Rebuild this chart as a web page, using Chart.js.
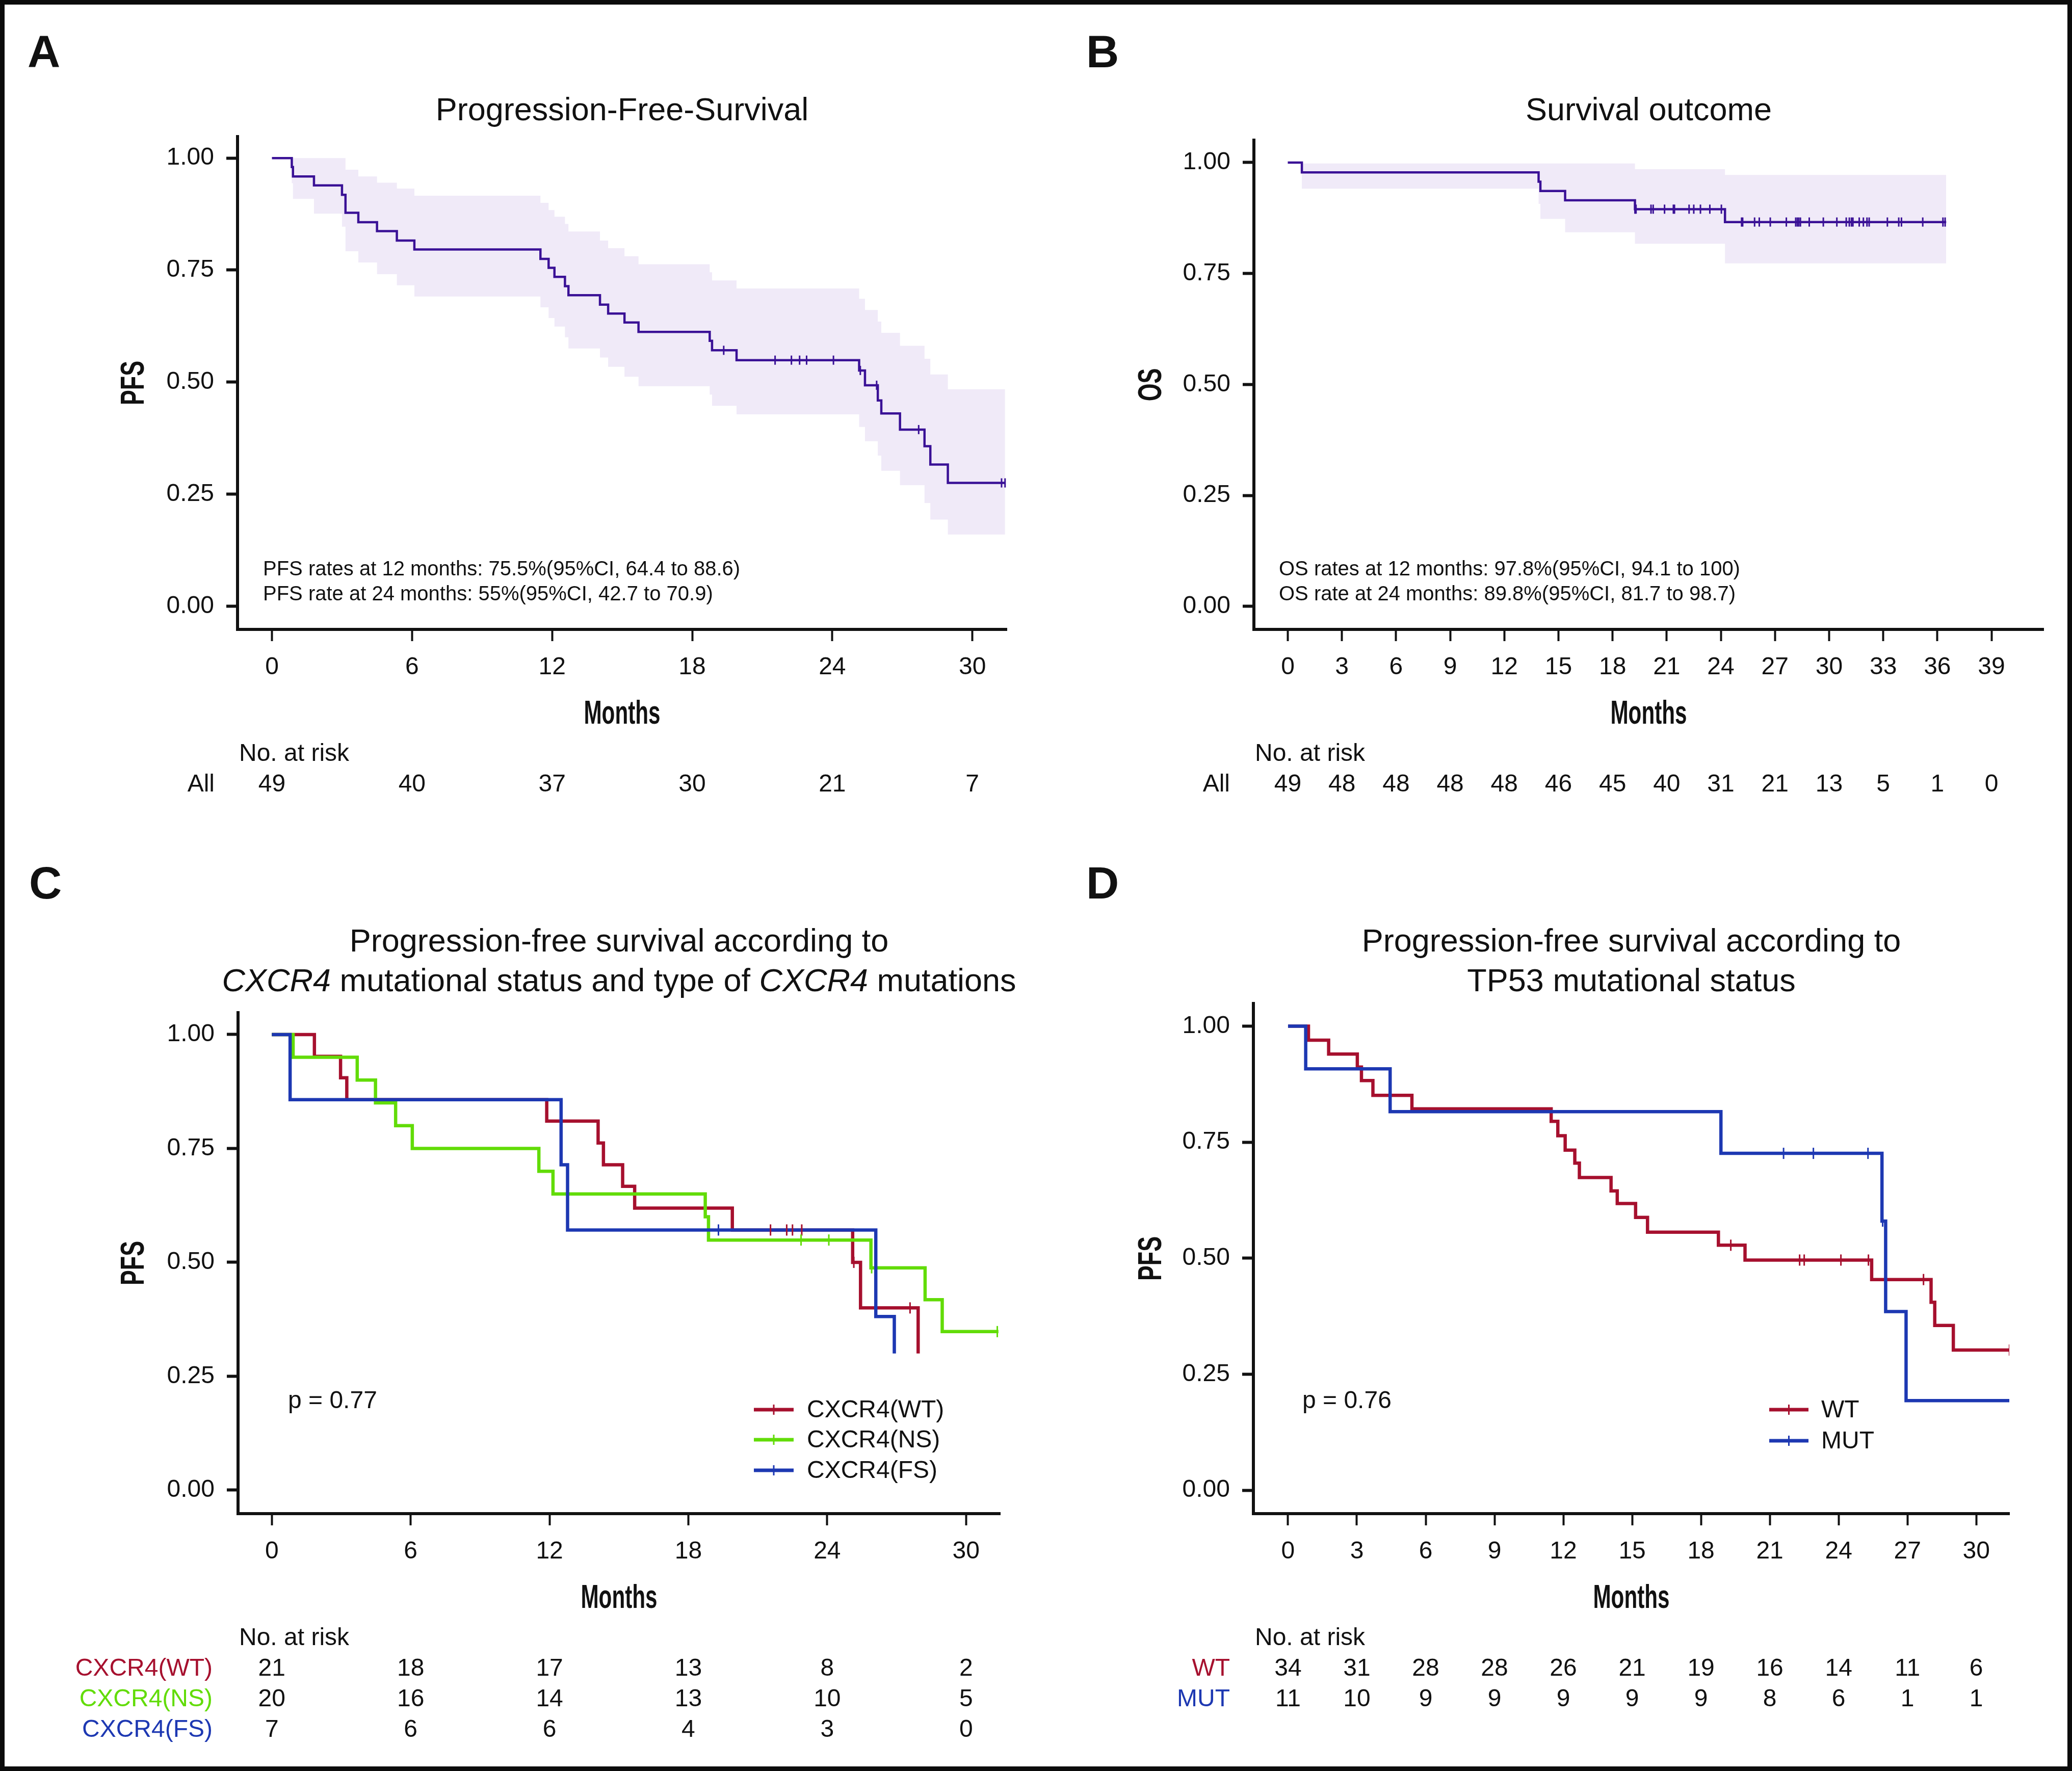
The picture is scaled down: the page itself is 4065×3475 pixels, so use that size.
<!DOCTYPE html>
<html><head><meta charset="utf-8">
<script src="https://cdn.jsdelivr.net/npm/chart.js@4/dist/chart.umd.min.js"></script>
<style>
html,body{margin:0;padding:0;background:#fff;}
#fig{position:relative;width:4065px;height:3475px;background:#fff;overflow:hidden;}
.panel{position:absolute;}
.panel canvas{display:block;}
#frame{position:absolute;left:0;top:0;width:4065px;height:3475px;box-sizing:border-box;border:9px solid #0b0b0b;pointer-events:none;}
</style></head><body>
<div id="fig">
  <div class="panel" style="left:0;top:0;width:2032px;height:1627px"><canvas id="cA"></canvas></div>
  <div class="panel" style="left:2032px;top:0;width:2033px;height:1627px"><canvas id="cB"></canvas></div>
  <div class="panel" style="left:0;top:1627px;width:2032px;height:1848px"><canvas id="cC"></canvas></div>
  <div class="panel" style="left:2032px;top:1627px;width:2033px;height:1848px"><canvas id="cD"></canvas></div>
  <div id="frame"></div>
</div>
<script>
// ---------------- DATA ----------------
// Panel A: progression-free survival (all patients)
const pfsTimes  = [0, 0.85, 0.9, 1.8, 3.0, 3.15, 3.7, 4.5, 5.35, 6.1, 11.5, 11.85, 12.1, 12.55, 12.7, 14.05, 14.4, 15.1, 15.7, 18.75, 18.85, 19.9, 25.15, 25.4, 25.95, 26.1, 26.9, 27.95, 28.2, 28.95, 31.4];
const pfsSurv   = [1.0, 0.980, 0.959, 0.939, 0.918, 0.878, 0.857, 0.837, 0.816, 0.796, 0.775, 0.755, 0.735, 0.714, 0.694, 0.673, 0.653, 0.633, 0.612, 0.592, 0.571, 0.549, 0.526, 0.493, 0.459, 0.430, 0.394, 0.357, 0.316, 0.275, 0.275];
const pfsUpper  = [1.0, 1.0, 1.0, 1.0, 1.0, 0.974, 0.959, 0.945, 0.932, 0.916, 0.900, 0.884, 0.869, 0.853, 0.836, 0.816, 0.799, 0.781, 0.763, 0.745, 0.727, 0.709, 0.686, 0.661, 0.635, 0.610, 0.581, 0.552, 0.517, 0.484, 0.484];
const pfsLower  = [1.0, 0.944, 0.909, 0.876, 0.847, 0.792, 0.767, 0.741, 0.716, 0.691, 0.667, 0.643, 0.624, 0.600, 0.575, 0.555, 0.534, 0.512, 0.491, 0.472, 0.447, 0.428, 0.400, 0.368, 0.336, 0.302, 0.270, 0.230, 0.193, 0.160, 0.160];
const pfsCensor = [19.35, 21.55, 22.25, 22.6, 22.9, 24.05, 25.2, 25.9, 27.7, 31.25, 31.4];
const pfsNotes  = ["PFS rates at 12 months: 75.5%(95%CI, 64.4 to 88.6)", "PFS rate at 24 months: 55%(95%CI, 42.7 to 70.9)"];
const riskTimesA = [0, 6, 12, 18, 24, 30];
const riskAll_A  = [49, 40, 37, 30, 21, 7];

// Panel B: overall survival
const osTimes  = [0, 0.78, 13.9, 14.0, 15.37, 19.24, 24.23, 36.49];
const osSurv   = [1.0, 0.978, 0.957, 0.936, 0.915, 0.895, 0.866, 0.866];
const osUpper  = [1.0, 0.998, 0.998, 0.998, 0.998, 0.985, 0.972, 0.972];
const osLower  = [1.0, 0.941, 0.907, 0.873, 0.843, 0.817, 0.773, 0.773];
const osCensor = [19.24, 19.3, 20.13, 20.25, 20.88, 21.37, 21.43, 22.24, 22.5, 22.87, 23.39, 24.03, 25.15, 25.21, 25.87, 26.13, 26.74, 27.63, 28.15, 28.24, 28.32, 28.41, 28.9, 29.68, 30.43, 30.95, 31.12, 31.24, 31.32, 31.67, 31.9, 32.1, 32.22, 33.23, 33.86, 34.01, 35.19, 36.31, 36.43];
const osNotes  = ["OS rates at 12 months: 97.8%(95%CI, 94.1 to 100)", "OS rate at 24 months: 89.8%(95%CI, 81.7 to 98.7)"];
const riskTimesB = [0, 3, 6, 9, 12, 15, 18, 21, 24, 27, 30, 33, 36, 39];
const riskAll_B  = [49, 48, 48, 48, 48, 46, 45, 40, 31, 21, 13, 5, 1, 0];

// Panel C: PFS by CXCR4 status
const cxWtTimes  = [0, 1.84, 2.97, 3.24, 11.88, 14.1, 14.33, 15.16, 15.68, 19.9, 25.1, 25.44, 27.93];
const cxWtSurv   = [1.0, 0.952, 0.905, 0.857, 0.810, 0.762, 0.714, 0.667, 0.619, 0.571, 0.500, 0.400, 0.300];
const cxWtCensor = [21.55, 22.25, 22.5, 22.9, 25.15, 27.58];
const cxNsTimes  = [0, 0.92, 3.69, 4.48, 5.35, 6.07, 11.54, 12.15, 18.73, 18.87, 25.89, 28.23, 28.97, 31.4];
const cxNsSurv   = [1.0, 0.95, 0.90, 0.85, 0.80, 0.75, 0.70, 0.65, 0.60, 0.549, 0.488, 0.418, 0.348, 0.348];
const cxNsCensor = [22.87, 24.07, 25.92, 31.35];
const cxFsTimes  = [0, 0.79, 12.5, 12.78, 26.1, 26.9];
const cxFsSurv   = [1.0, 0.857, 0.714, 0.571, 0.381, 0.300];
const cxFsCensor = [19.3];
const riskTimesC = [0, 6, 12, 18, 24, 30];
const riskCxWt = [21, 18, 17, 13, 8, 2];
const riskCxNs = [20, 16, 14, 13, 10, 5];
const riskCxFs = [7, 6, 6, 4, 3, 0];

// Panel D: PFS by TP53 status
const tpWtTimes  = [0, 0.89, 1.77, 3.02, 3.2, 3.7, 5.4, 11.47, 11.76, 12.08, 12.5, 12.7, 14.08, 14.35, 15.15, 15.67, 18.76, 19.92, 25.44, 28.03, 28.19, 29.0, 31.5];
const tpWtSurv   = [1.0, 0.970, 0.940, 0.912, 0.883, 0.851, 0.822, 0.795, 0.764, 0.733, 0.705, 0.674, 0.645, 0.618, 0.588, 0.556, 0.528, 0.496, 0.454, 0.405, 0.355, 0.302, 0.302];
const tpWtCensor = [19.3, 22.3, 22.5, 24.1, 25.3, 27.7, 31.45];
const tpMutTimes = [0, 0.77, 4.45, 18.87, 25.89, 26.05, 26.94, 31.5];
const tpMutSurv  = [1.0, 0.908, 0.816, 0.726, 0.580, 0.385, 0.193, 0.193];
const tpMutCensor = [21.6, 22.9, 25.28, 25.92];
const riskTimesD = [0, 3, 6, 9, 12, 15, 18, 21, 24, 27, 30];
const riskTpWt  = [34, 31, 28, 28, 26, 21, 19, 16, 14, 11, 6];
const riskTpMut = [11, 10, 9, 9, 9, 9, 9, 8, 6, 1, 1];

const yTickValues = [0, 0.25, 0.5, 0.75, 1.0];

// ---------------- STYLE ----------------
const FONT = "'Liberation Sans', Arial, Helvetica, sans-serif";
const INK = '#111111';
const IND = '#3A1196';
const BAND = '#F0EAF8';
const RED = '#A6102E';
const GREEN = '#62DC08';
const BLUE = '#1D38B2';

function pts(times, vals) { return times.map((t, i) => ({x: t, y: vals[i]})); }
function survAt(times, vals, t) {
  let v = vals[0];
  for (let i = 0; i < times.length; i++) { if (times[i] <= t) v = vals[i]; }
  return v;
}
function censorPts(c, times, vals) { return c.map(t => ({x: t, y: survAt(times, vals, t)})); }

function curve(label, times, vals, color, width) {
  return {label, data: pts(times, vals), stepped: 'before', borderColor: color, borderWidth: width,
          pointRadius: 0, fill: false, order: 1};
}
function censors(label, c, times, vals, color, r, w) {
  return {label, data: censorPts(c, times, vals), showLine: false, pointStyle: 'line', rotation: 90,
          pointRadius: r, pointBorderWidth: w, pointBorderColor: color, borderColor: color,
          pointBackgroundColor: color, order: 0};
}
function band(times, up, lo) {
  return [
    {label: 'upper', data: pts(times, up), stepped: 'before', borderColor: 'rgba(0,0,0,0)', borderWidth: 0, pointRadius: 0, fill: false, order: 5},
    {label: 'lower', data: pts(times, lo), stepped: 'before', borderColor: 'rgba(0,0,0,0)', borderWidth: 0, pointRadius: 0, fill: '-1', backgroundColor: BAND, order: 5}
  ];
}

const decoPlugin = {
  id: 'deco',
  afterDraw(chart, args, o) {
    const ctx = chart.ctx, xs = chart.scales.x, ca = chart.chartArea;
    ctx.save();
    ctx.fillStyle = INK;
    ctx.textBaseline = 'alphabetic';
    // panel letter
    ctx.font = 'bold 89px ' + FONT;
    ctx.textAlign = 'left';
    ctx.fillText(o.letter, o.letterX, o.letterY);
    // title lines (mixed italic)
    const cx0 = (ca.left + ca.right) / 2;
    o.title.forEach((runs, i) => {
      let total = 0;
      const w = runs.map(r => { ctx.font = (r.it ? 'italic ' : '') + '63px ' + FONT; const m = ctx.measureText(r.t).width; total += m; return m; });
      let x = cx0 - total / 2;
      runs.forEach((r, k) => { ctx.font = (r.it ? 'italic ' : '') + '63px ' + FONT; ctx.fillText(r.t, x, o.titleY[i]); x += w[k]; });
    });
    // axis titles in a condensed bold face
    ctx.font = 'bold 64px ' + FONT;
    ctx.textAlign = 'center';
    ctx.save();
    ctx.translate(cx0, ca.bottom + 185);
    ctx.scale(0.66, 1);
    ctx.fillText(o.xTitle, 0, 0);
    ctx.restore();
    ctx.save();
    ctx.translate(o.yTitleX + 23, (ca.top + ca.bottom) / 2);
    ctx.rotate(-Math.PI / 2);
    ctx.scale(0.7, 1);
    ctx.fillText(o.yTitle, 0, 0);
    ctx.restore();
    ctx.textAlign = 'left';
    // notes
    if (o.notes) {
      ctx.font = '40px ' + FONT;
      o.notes.forEach((t, i) => ctx.fillText(t, o.notesX, o.notesY[i]));
    }
    // p value
    if (o.pText) {
      ctx.font = '48px ' + FONT;
      ctx.fillText(o.pText, o.pX, o.pY);
    }
    // legend
    if (o.legend) {
      o.legend.forEach((e, i) => {
        const y = o.legendY[i];
        ctx.strokeStyle = e.color; ctx.lineWidth = 7;
        ctx.beginPath(); ctx.moveTo(o.legendX1, y); ctx.lineTo(o.legendX2, y); ctx.stroke();
        const mx = (o.legendX1 + o.legendX2) / 2;
        ctx.lineWidth = 3;
        ctx.beginPath(); ctx.moveTo(mx, y - 10); ctx.lineTo(mx, y + 10); ctx.stroke();
        ctx.fillStyle = INK; ctx.font = '48px ' + FONT; ctx.textBaseline = 'middle';
        ctx.fillText(e.label, o.legendTX, y + 2);
        ctx.textBaseline = 'alphabetic';
      });
    }
    // number at risk table
    ctx.font = '48px ' + FONT;
    ctx.fillStyle = INK; ctx.textAlign = 'left';
    ctx.fillText('No. at risk', o.riskX, ca.bottom + 258);
    o.riskRows.forEach((row, i) => {
      const y = ca.bottom + 318 + 60 * i;
      ctx.fillStyle = row.color; ctx.textAlign = 'right';
      ctx.fillText(row.label, o.riskLabelX, y);
      ctx.fillStyle = INK; ctx.textAlign = 'center';
      o.riskTimes.forEach((t, j) => ctx.fillText(String(row.values[j]), xs.getPixelForValue(t), y));
    });
    ctx.restore();
  }
};

function makeKM(id, g, datasets, deco) {
  const H = g.H, W = g.W;
  deco.xTitle = 'Months';
  deco.yTitle = g.yTitle;
  deco.yTitleX = g.yTitleX;
  return new Chart(document.getElementById(id), {
    type: 'line',
    data: {datasets},
    plugins: [decoPlugin],
    options: {
      responsive: true, maintainAspectRatio: false, animation: false, events: [],
      layout: {padding: {left: 0, top: g.top, right: W - g.right, bottom: 0}},
      plugins: {legend: {display: false}, title: {display: false}, tooltip: {enabled: false},
                filler: {drawTime: 'beforeDatasetsDraw'}, deco},
      scales: {
        x: {
          type: 'linear', min: g.xMin, max: g.xMax,
          afterFit: s => { s.height = H - g.bottom; },
          afterBuildTicks: s => { s.ticks = g.xTicks.map(v => ({value: v})); },
          ticks: {font: {family: FONT, size: 48}, color: INK, padding: 23, maxRotation: 0, autoSkip: false,
                  callback: v => String(v)},
          grid: {drawOnChartArea: false, drawTicks: true, tickLength: 23, tickWidth: 4, tickColor: INK},
          border: {display: true, color: INK, width: 6},
          title: {display: false, text: 'Months'}
        },
        y: {
          type: 'linear', min: g.yMin, max: g.yMax,
          afterFit: s => { s.width = g.left; },
          afterBuildTicks: s => { s.ticks = yTickValues.map(v => ({value: v})); },
          ticks: {font: {family: FONT, size: 48}, color: INK, padding: 24, callback: v => Number(v).toFixed(2)},
          grid: {drawOnChartArea: false, drawTicks: true, tickLength: 22, tickWidth: 6, tickColor: INK},
          border: {display: true, color: INK, width: 6},
          title: {display: false, text: g.yTitle}
        }
      }
    }
  });
}

// Panel A
makeKM('cA',
  {W: 2032, H: 1627, left: 466, right: 1975, top: 268, bottom: 1235, xMin: -1.474, xMax: 31.47, yMin: -0.052, yMax: 1.048,
   xTicks: riskTimesA, yTitle: 'PFS', yTitleX: 259},
  [curve('PFS', pfsTimes, pfsSurv, IND, 4.5), censors('censored', pfsCensor, pfsTimes, pfsSurv, IND, 9, 3), ...band(pfsTimes, pfsUpper, pfsLower)],
  {letter: 'A', letterX: 54, letterY: 132, title: [[{t: 'Progression-Free-Survival'}]], titleY: [236],
   notes: pfsNotes, notesX: 516, notesY: [1129, 1178],
   riskX: 469, riskLabelX: 421, riskTimes: riskTimesA, riskRows: [{label: 'All', color: INK, values: riskAll_A}]});

// Panel B
makeKM('cB',
  {W: 2033, H: 1627, left: 428, right: 1977, top: 275, bottom: 1235, xMin: -1.878, xMax: 41.88, yMin: -0.052, yMax: 1.0505,
   xTicks: riskTimesB, yTitle: 'OS', yTitleX: 223},
  [curve('OS', osTimes, osSurv, IND, 4.5), censors('censored', osCensor, osTimes, osSurv, IND, 9, 3), ...band(osTimes, osUpper, osLower)],
  {letter: 'B', letterX: 99, letterY: 132, title: [[{t: 'Survival outcome'}]], titleY: [236],
   notes: osNotes, notesX: 477, notesY: [1129, 1178],
   riskX: 430, riskLabelX: 381, riskTimes: riskTimesB, riskRows: [{label: 'All', color: INK, values: riskAll_B}]});

// Panel C
makeKM('cC',
  {W: 2032, H: 1848, left: 467, right: 1962, top: 360, bottom: 1343, xMin: -1.46, xMax: 31.47, yMin: -0.0515, yMax: 1.048,
   xTicks: riskTimesC, yTitle: 'PFS', yTitleX: 259},
  [curve('CXCR4(FS)', cxFsTimes, cxFsSurv, BLUE, 6.5), curve('CXCR4(NS)', cxNsTimes, cxNsSurv, GREEN, 6.5), curve('CXCR4(WT)', cxWtTimes, cxWtSurv, RED, 6.5),
   censors('FS censored', cxFsCensor, cxFsTimes, cxFsSurv, BLUE, 11, 3),
   censors('NS censored', cxNsCensor, cxNsTimes, cxNsSurv, GREEN, 11, 3),
   censors('WT censored', cxWtCensor, cxWtTimes, cxWtSurv, RED, 11, 3)],
  {letter: 'C', letterX: 57, letterY: 136,
   title: [[{t: 'Progression-free survival according to'}],
           [{t: 'CXCR4', it: true}, {t: ' mutational status and type of '}, {t: 'CXCR4', it: true}, {t: ' mutations'}]],
   titleY: [240, 318],
   pText: 'p = 0.77', pX: 565, pY: 1136,
   legend: [{label: 'CXCR4(WT)', color: RED}, {label: 'CXCR4(NS)', color: GREEN}, {label: 'CXCR4(FS)', color: BLUE}],
   legendY: [1139, 1198, 1258], legendX1: 1479, legendX2: 1557, legendTX: 1583,
   riskX: 469, riskLabelX: 417, riskTimes: riskTimesC,
   riskRows: [{label: 'CXCR4(WT)', color: RED, values: riskCxWt}, {label: 'CXCR4(NS)', color: GREEN, values: riskCxNs}, {label: 'CXCR4(FS)', color: BLUE, values: riskCxFs}]});

// Panel D
makeKM('cD',
  {W: 2033, H: 1848, left: 427, right: 1910, top: 342, bottom: 1343, xMin: -1.51, xMax: 31.44, yMin: -0.0505, yMax: 1.049,
   xTicks: riskTimesD, yTitle: 'PFS', yTitleX: 223},
  [curve('MUT', tpMutTimes, tpMutSurv, BLUE, 6.5), curve('WT', tpWtTimes, tpWtSurv, RED, 6.5),
   censors('MUT censored', tpMutCensor, tpMutTimes, tpMutSurv, BLUE, 11, 3),
   censors('WT censored', tpWtCensor, tpWtTimes, tpWtSurv, RED, 11, 3)],
  {letter: 'D', letterX: 99, letterY: 136,
   title: [[{t: 'Progression-free survival according to'}], [{t: 'TP53 mutational status'}]],
   titleY: [240, 318],
   pText: 'p = 0.76', pX: 523, pY: 1136,
   legend: [{label: 'WT', color: RED}, {label: 'MUT', color: BLUE}],
   legendY: [1139, 1200], legendX1: 1439, legendX2: 1516, legendTX: 1541,
   riskX: 430, riskLabelX: 381, riskTimes: riskTimesD,
   riskRows: [{label: 'WT', color: RED, values: riskTpWt}, {label: 'MUT', color: BLUE, values: riskTpMut}]});
</script>
</body></html>
